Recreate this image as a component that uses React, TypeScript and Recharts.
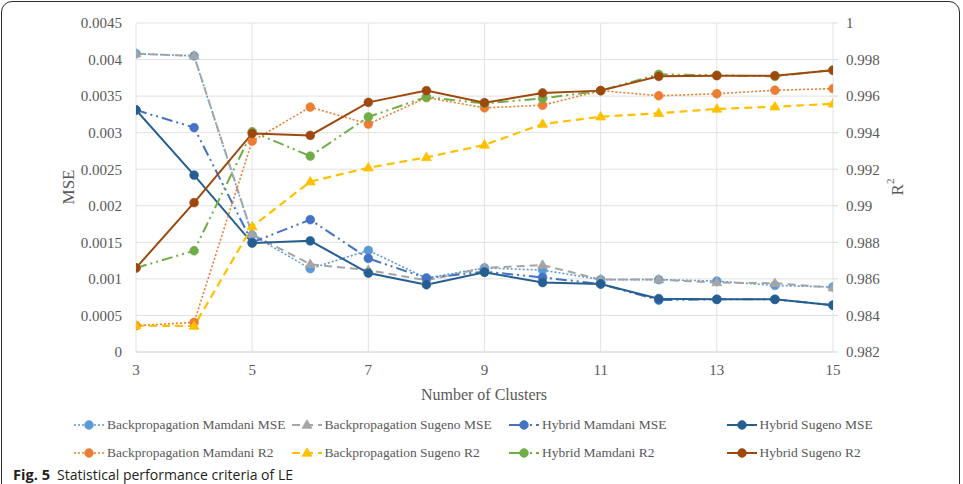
import React from 'react';
import { LineChart, Line, XAxis, YAxis, CartesianGrid } from 'recharts';

// Number of clusters on the x axis
const clusters = [3, 4, 5, 6, 7, 8, 9, 10, 11, 12, 13, 14, 15];

// MSE series (left axis)
const bpMamdaniMse = [0.00408, 0.00405, 0.0016, 0.00114, 0.00139, 0.00101, 0.00115, 0.00112, 0.00099, 0.00099, 0.00097, 0.00091, 0.00089];
const bpSugenoMse = [0.00408, 0.00405, 0.00161, 0.0012, 0.00112, 0.00098, 0.00115, 0.00119, 0.00099, 0.00099, 0.00095, 0.00094, 0.00088];
const hybridMamdaniMse = [0.00331, 0.00307, 0.0015, 0.00181, 0.00128, 0.00101, 0.0011, 0.00102, 0.00093, 0.00071, 0.00072, 0.00072, 0.00064];
const hybridSugenoMse = [0.00331, 0.00242, 0.00149, 0.00152, 0.00108, 0.00092, 0.00109, 0.00095, 0.00093, 0.00073, 0.00072, 0.00072, 0.00064];

// R2 series (right axis)
const bpMamdaniR2 = [0.98344, 0.98362, 0.99354, 0.9954, 0.99447, 0.99592, 0.99536, 0.9955, 0.9963, 0.99602, 0.99613, 0.99632, 0.99641];
const bpSugenoR2 = [0.98344, 0.98342, 0.98886, 0.99132, 0.99208, 0.99265, 0.99333, 0.99447, 0.99487, 0.99506, 0.9953, 0.99542, 0.99558];
const hybridMamdaniR2 = [0.9866, 0.98754, 0.99405, 0.99272, 0.99486, 0.99595, 0.9956, 0.99587, 0.9963, 0.99719, 0.99714, 0.99708, 0.99743];
const hybridSugenoR2 = [0.9866, 0.99017, 0.99396, 0.99385, 0.99566, 0.9963, 0.99564, 0.99617, 0.9963, 0.99708, 0.99712, 0.99712, 0.99741];

// Axis ticks and their printed labels
const clusterTicks = [3, 5, 7, 9, 11, 13, 15];
const mseTicks = [0, 0.0005, 0.001, 0.0015, 0.002, 0.0025, 0.003, 0.0035, 0.004, 0.0045];
const mseTickLabels = ['0', '0.0005', '0.001', '0.0015', '0.002', '0.0025', '0.003', '0.0035', '0.004', '0.0045'];
const r2Ticks = [0.982, 0.984, 0.986, 0.988, 0.99, 0.992, 0.994, 0.996, 0.998, 1];
const r2TickLabels = ['0.982', '0.984', '0.986', '0.988', '0.99', '0.992', '0.994', '0.996', '0.998', '1'];

type Marker = 'circle' | 'triangle';
interface SeriesDef {
  key: string;
  name: string;
  values: number[];
  axis: 'mse' | 'r2';
  color: string;
  dash?: string;
  width: number;
  marker: Marker;
}

const DOTTED = '2 2';
const DASHED = '8 5';
const LONG_DASH_DOT_DOT = '11 4 2 4 2 4';

const series: SeriesDef[] = [
  { key: 'bpMamdaniMse', name: 'Backpropagation Mamdani MSE', values: bpMamdaniMse, axis: 'mse', color: '#5b9bd5', dash: DOTTED, width: 1.6, marker: 'circle' },
  { key: 'bpSugenoMse', name: 'Backpropagation Sugeno MSE', values: bpSugenoMse, axis: 'mse', color: '#a5a5a5', dash: DASHED, width: 2, marker: 'triangle' },
  { key: 'hybridMamdaniMse', name: 'Hybrid Mamdani MSE', values: hybridMamdaniMse, axis: 'mse', color: '#4472c4', dash: LONG_DASH_DOT_DOT, width: 2, marker: 'circle' },
  { key: 'hybridSugenoMse', name: 'Hybrid Sugeno MSE', values: hybridSugenoMse, axis: 'mse', color: '#255e91', width: 2, marker: 'circle' },
  { key: 'bpMamdaniR2', name: 'Backpropagation Mamdani R2', values: bpMamdaniR2, axis: 'r2', color: '#ed7d31', dash: DOTTED, width: 1.6, marker: 'circle' },
  { key: 'bpSugenoR2', name: 'Backpropagation Sugeno R2', values: bpSugenoR2, axis: 'r2', color: '#ffc000', dash: DASHED, width: 2.2, marker: 'triangle' },
  { key: 'hybridMamdaniR2', name: 'Hybrid Mamdani R2', values: hybridMamdaniR2, axis: 'r2', color: '#70ad47', dash: LONG_DASH_DOT_DOT, width: 2, marker: 'circle' },
  { key: 'hybridSugenoR2', name: 'Hybrid Sugeno R2', values: hybridSugenoR2, axis: 'r2', color: '#9e480e', width: 2, marker: 'circle' },
];

const rows = clusters.map((c, i) => {
  const row: Record<string, number> = { clusters: c };
  series.forEach((s) => {
    row[s.key] = s.values[i];
  });
  return row;
});

const labelFor = (ticks: number[], labels: string[]) => (v: number) => {
  const i = ticks.findIndex((t) => Math.abs(t - v) < 1e-9);
  return i >= 0 ? labels[i] : String(v);
};

const SERIF = '"Liberation Serif", "Times New Roman", serif';
const TEXT_GRAY = '#595959';
const GRID = '#e2e2e2';

function MarkerShape({ marker, color, cx, cy }: { marker: Marker; color: string; cx: number; cy: number }) {
  if (marker === 'triangle') {
    const r = 5.2;
    return (
      <polygon
        points={`${cx},${cy - r} ${cx + r * 0.95},${cy + r * 0.62} ${cx - r * 0.95},${cy + r * 0.62}`}
        fill={color}
        stroke={color}
        strokeWidth={0.8}
      />
    );
  }
  return <circle cx={cx} cy={cy} r={4.4} fill={color} stroke={color} strokeWidth={0.6} />;
}

const makeDot = (s: SeriesDef) => (props: any) => {
  const { cx, cy, index } = props;
  if (cx == null || cy == null) return <g key={`${s.key}-${index}`} />;
  return (
    <g key={`${s.key}-${index}`}>
      <MarkerShape marker={s.marker} color={s.color} cx={cx} cy={cy} />
    </g>
  );
};

function LegendIcon({ s }: { s: SeriesDef }) {
  return (
    <svg width={30} height={12} style={{ display: 'block' }}>
      <line x1={0} y1={6} x2={30} y2={6} stroke={s.color} strokeWidth={s.width} strokeDasharray={s.dash} />
      <MarkerShape marker={s.marker} color={s.color} cx={15} cy={6} />
    </svg>
  );
}

export default function App() {
  return (
    <div
      style={{
        position: 'absolute',
        left: 0,
        top: 0,
        width: 963,
        height: 484,
        overflow: 'hidden',
        background: '#ffffff',
      }}
    >
      <div
        style={{
          position: 'absolute',
          left: 1,
          top: 1,
          width: 957,
          height: 540,
          border: '1.5px solid #2b2b2b',
          borderRadius: 11,
        }}
      />
      <div style={{ position: 'absolute', left: 0, top: 0 }}>
        <LineChart width={963} height={410} data={rows} margin={{ top: 23, right: 0, bottom: 28, left: 0 }}>
          <CartesianGrid yAxisId="mse" stroke={GRID} strokeWidth={1} />
          <XAxis
            dataKey="clusters"
            type="number"
            domain={[3, 15]}
            ticks={clusterTicks}
            allowDataOverflow
            height={30}
            tickLine={false}
            tickSize={0}
            tickMargin={12}
            axisLine={{ stroke: '#d9d9d9' }}
            tick={{ fill: TEXT_GRAY, fontSize: 15, fontFamily: SERIF }}
            label={{
              content: () => (
                <text x={484} y={400} textAnchor="middle" fill={TEXT_GRAY} fontSize={16} fontFamily={SERIF}>
                  Number of Clusters
                </text>
              ),
            }}
          />
          <YAxis
            yAxisId="mse"
            orientation="left"
            width={136}
            domain={[0, 0.0045]}
            ticks={mseTicks}
            allowDataOverflow
            axisLine={false}
            tickLine={false}
            tickSize={0}
            tickMargin={14}
            tickFormatter={labelFor(mseTicks, mseTickLabels)}
            tick={{ fill: TEXT_GRAY, fontSize: 15, fontFamily: SERIF }}
            label={{
              content: () => (
                <text
                  x={68}
                  y={187}
                  transform="rotate(-90 68 187)"
                  textAnchor="middle"
                  dominantBaseline="central"
                  fill={TEXT_GRAY}
                  fontSize={17}
                  fontFamily={SERIF}
                >
                  MSE
                </text>
              ),
            }}
          />
          <YAxis
            yAxisId="r2"
            orientation="right"
            width={130}
            domain={[0.982, 1]}
            ticks={r2Ticks}
            allowDataOverflow
            axisLine={false}
            tickLine={{ stroke: '#d9d9d9' }}
            tickSize={5}
            tickMargin={8}
            tickFormatter={labelFor(r2Ticks, r2TickLabels)}
            tick={{ fill: TEXT_GRAY, fontSize: 15, fontFamily: SERIF }}
            label={{
              content: () => (
                <text
                  x={897}
                  y={187}
                  transform="rotate(-90 897 187)"
                  textAnchor="middle"
                  dominantBaseline="central"
                  fill={TEXT_GRAY}
                  fontSize={17}
                  fontFamily={SERIF}
                >
                  R
                  <tspan dy={-7} fontSize={11}>
                    2
                  </tspan>
                </text>
              ),
            }}
          />
          {series.map((s) => (
            <Line
              key={s.key}
              yAxisId={s.axis}
              dataKey={s.key}
              name={s.name}
              type="linear"
              stroke={s.color}
              strokeWidth={s.width}
              strokeDasharray={s.dash}
              dot={makeDot(s)}
              activeDot={false}
              isAnimationActive={false}
            />
          ))}
        </LineChart>
      </div>
      {series.map((s, i) => {
        const col = i % 4;
        const row = Math.floor(i / 4);
        const left = 74 + col * 217.5;
        const top = 425 + row * 28 - 10;
        return (
          <div
            key={`legend-${s.key}`}
            style={{ position: 'absolute', left, top, height: 20, display: 'flex', alignItems: 'center' }}
          >
            <LegendIcon s={s} />
            <span
              style={{
                marginLeft: 3,
                fontFamily: SERIF,
                fontSize: 13.5,
                color: TEXT_GRAY,
                whiteSpace: 'nowrap',
              }}
            >
              {s.name}
            </span>
          </div>
        );
      })}
      <svg width={963} height={484} style={{ position: 'absolute', left: 0, top: 0, pointerEvents: 'none' }}>
        <text
          x={13}
          y={480}
          fontFamily='"Open Sans", "Noto Sans", sans-serif'
          fontWeight={700}
          fontSize={14}
          fill="#231f20"
          textLength={37}
          lengthAdjust="spacingAndGlyphs"
        >
          Fig. 5
        </text>
        <text
          x={57}
          y={480}
          fontFamily='"Open Sans", "Noto Sans", sans-serif'
          fontSize={14}
          fill="#231f20"
          textLength={236}
          lengthAdjust="spacingAndGlyphs"
        >
          Statistical performance criteria of LE
        </text>
      </svg>
    </div>
  );
}
